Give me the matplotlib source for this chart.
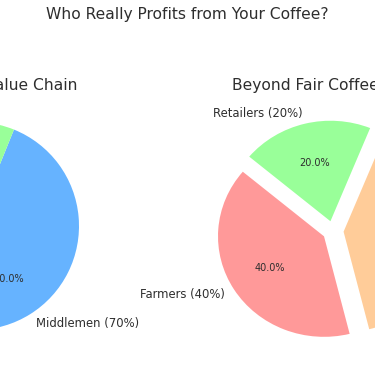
import matplotlib
matplotlib.use("Agg")
import matplotlib.pyplot as plt

# ─────────────────────────────────────────
# Data
# ─────────────────────────────────────────
stakeholders_std = ["Farmers", "Middlemen", "Retailers"]
share_std = [10, 70, 20]
colors_std = ["#ff9999", "#66b3ff", "#99ff99"]

stakeholders_bf = ["Farmers", "Community Fund", "Retailers"]
share_bf = [40, 40, 20]
colors_bf = ["#ff9999", "#ffcc99", "#99ff99"]

plt.rcParams["text.color"] = "0.18"
plt.rcParams["font.family"] = "DejaVu Sans"

DPI = 70
W, H = 375, 366
fig = plt.figure(figsize=(W / DPI, H / DPI), dpi=DPI)


def pie_axes(cx, cy, rx, ry):
    """Axes placed so the pie centre lands on pixel (cx, cy), radii rx/ry in px."""
    w, h = 2.5 * rx, 2.5 * ry
    return fig.add_axes([(cx - w / 2) / W, (H - cy - h / 2) / H, w / W, h / H])


def shrink_pct(ax, size=10):
    for t in ax.texts:
        if t.get_text().endswith("%") and "(" not in t.get_text():
            t.set_fontsize(size)


ax1 = pie_axes(-25, 226, 104, 104)
ax1.pie(share_std, labels=[f"{s} ({v}%)" for s, v in zip(stakeholders_std, share_std)],
        colors=colors_std, autopct="%1.1f%%", startangle=140,
        textprops={"fontsize": 12})
ax1.set_aspect("auto")
shrink_pct(ax1)

ax2 = pie_axes(333, 231, 106, 100.5)
ax2.pie(share_bf, labels=[f"{s} ({v}%)" for s, v in zip(stakeholders_bf, share_bf)],
        colors=colors_bf, autopct="%1.1f%%", startangle=140,
        explode=(0.1, 0.1, 0.1), textprops={"fontsize": 12})
ax2.set_aspect("auto")
shrink_pct(ax2)

# subplot titles, both on the same baseline
fig.text(-22 / W, 1 - 90 / H, "Conventional Value Chain", fontsize=16,
         ha="center", va="baseline")
fig.text(331 / W, 1 - 90 / H, "Beyond Fair Coffee Model", fontsize=16,
         ha="center", va="baseline")

fig.suptitle("Who Really Profits from Your Coffee?", fontsize=16, y=0.982)

fig.savefig("out.png", dpi=DPI)
